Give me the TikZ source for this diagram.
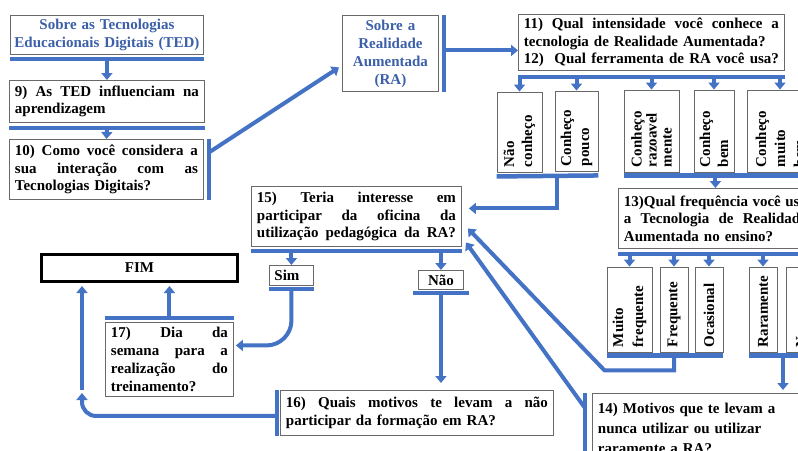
\documentclass[tikz,border=0pt]{standalone}
\usepackage{fontspec}
\setmainfont{Liberation Serif}
\usepackage{graphicx}
\usetikzlibrary{arrows.meta}
\definecolor{rablue}{RGB}{68,114,196}
\definecolor{headblue}{RGB}{59,95,168}
\definecolor{boxgray}{RGB}{105,105,105}
\newcommand{\qfont}{\fontsize{15}{17.5}\selectfont\bfseries}
\newcommand{\jl}[1]{{\spaceskip=0pt\xspaceskip=0pt\makebox[\hsize][s]{#1}}}
\newcommand{\vlab}[3]{\rotatebox{90}{\parbox{#1pt}{\fontsize{15}{#2}\selectfont\bfseries\raggedright #3}}}

\begin{document}
\begin{tikzpicture}[x=1pt,y=-1pt,
    qbox/.style={draw=boxgray,line width=0.9pt,fill=white,anchor=north west,inner xsep=5.5pt,inner ysep=0pt,align=left,font=\qfont},
    optbox/.style={draw=boxgray,line width=0.9pt,fill=white,inner sep=0pt,minimum height=#1},
    bar/.style={draw=rablue,line width=4.5pt},
    arr/.style={draw=rablue,line width=4pt,-{Triangle[width=11pt,length=7pt]}}]
        \useasboundingbox (0,0) rectangle (798,450);
        \clip (0,0) rectangle (798,450);
        \fill[white] (0,0) rectangle (798,450);
        \node[qbox,text width=188pt,inner xsep=2.5pt,minimum height=39pt,align=center,text=headblue] (ted) at (10,15) {Sobre as Tecnologias\\Educacionais Digitais (TED)};
        \node[qbox,text width=184pt,minimum height=42pt] (q9) at (9,80) {\jl{9) As TED influenciam na}\\aprendizagem};
        \node[qbox,text width=183pt,minimum height=60pt] (q10) at (9,139) {\jl{10) Como você considera a}\\\jl{sua interação com as}\\Tecnologias Digitais?};
        \node[qbox,text width=90pt,inner xsep=3pt,minimum height=76pt,align=center,text=headblue,font=\fontsize{15}{18}\selectfont\bfseries] (ra) at (342,15) {Sobre a\\Realidade\\Aumentada\\(RA)};
        \node[qbox,text width=255pt,minimum height=56pt] (q11) at (518,14) {\jl{11) Qual intensidade você conhece a}\\tecnologia de Realidade Aumentada?\\\jl{12)\ \ Qual ferramenta de RA você usa?}};
        \node[optbox=80pt,minimum width=45pt] (nc) at (519.5,132) {\vlab{70}{18}{Não\\conheço}};
        \node[optbox=80pt,minimum width=43pt] (cp) at (576.5,131) {\vlab{70}{18}{Conheço\\pouco}};
        \node[optbox=82pt,minimum width=55pt] (cr) at (651.5,131) {\vlab{72}{15}{Conheço\\razoavel\\mente}};
        \node[optbox=82pt,minimum width=40pt] (cb) at (714,131) {\vlab{72}{18}{Conheço\\bem}};
        \node[optbox=82pt,minimum width=66pt] (cmb) at (780,131) {\vlab{72}{19}{Conheço\\muito\\bem}};
        \node[qbox,text width=183pt,minimum height=60pt] (q13) at (618,188) {\jl{13)Qual frequência você usa}\\\jl{a Tecnologia de Realidade}\\Aumentada no ensino?};
        \node[optbox=85pt,minimum width=45pt] (mf) at (629.5,309.5) {\vlab{75}{20}{Muito\\frequente}};
        \node[optbox=85pt,minimum width=28pt] (fr) at (674,309.5) {\vlab{75}{18}{Frequente}};
        \node[optbox=85pt,minimum width=28pt] (oc) at (709,309.5) {\vlab{75}{18}{Ocasional}};
        \node[optbox=85pt,minimum width=28pt] (rr) at (763,309.5) {\vlab{75}{18}{Raramente}};
        \node[optbox=85pt,minimum width=30pt] (nu) at (801,309.5) {\vlab{75}{18}{Nunca}};
        \node[qbox,text width=219pt,minimum height=70pt,font=\fontsize{15}{20}\selectfont\bfseries] (q14) at (592,393) {14) Motivos que te levam a\\nunca utilizar ou utilizar\\raramente a RA?};
        \node[qbox,text width=199pt,minimum height=60pt] (q15) at (251,186) {\jl{15) Teria interesse em}\\\jl{participar da oficina da}\\\jl{utilização pedagógica da RA?}};
        \node[qbox,text width=34pt,inner xsep=5pt,minimum height=20pt] (sim) at (269,265) {Sim};
        \node[qbox,text width=39pt,inner xsep=3pt,minimum height=19pt,align=center] (nao) at (418,270) {Não};
        \node[qbox,text width=262pt,minimum height=45pt] (q16) at (280,390) {\jl{16) Quais motivos te levam a não}\\participar da formação em RA?};
        \node[qbox,text width=117pt,minimum height=74pt,font=\fontsize{15}{18}\selectfont\bfseries] (q17) at (105,322) {\jl{17) Dia da}\\\jl{semana para a}\\\jl{realização do}\\treinamento?};
        \node[qbox,draw=black,line width=3pt,text width=185pt,minimum height=27pt,align=center] (fim) at (40,253) {FIM};
        \draw [bar] ([yshift=-4pt]ted.south west) -- ([yshift=-4pt]ted.south east);
        \draw [arr] ([yshift=-4pt]ted.south) -- (q9.north);
        \draw [bar] ([yshift=-5pt]q9.south west) -- ([yshift=-5pt]q9.south east);
        \draw [arr] ([yshift=-5pt]q9.south) -- (q10.north);
        \draw [bar] ([xshift=5pt]q10.north east) -- ([xshift=5pt]q10.south east);
        \draw [arr] ([xshift=5pt,yshift=17pt]q10.east) -- ([xshift=-3pt,yshift=-14pt]ra.west);
        \draw [bar] ([xshift=5pt]ra.north east) -- ([xshift=5pt]ra.south east);
        \draw [arr] ([xshift=5pt,yshift=3pt]ra.east) -- ([yshift=3pt]ra.east -| q11.west);
        \draw [bar] ([yshift=-6pt]q11.south west) -- ([yshift=-6pt]q11.south east);
        \foreach \o in {nc,cp,cr,cb,cmb}
            \draw [arr] ([yshift=-6pt]q11.south west -| \o) -- (\o.north);
        \draw [bar] ([yshift=-4pt]nc.south west) -- ([yshift=-4pt]cp.south east);
        \coordinate (jnc) at (557,176);
        \draw [arr] (jnc) |- ([xshift=7pt,yshift=8pt]q15.east);
        \draw [bar] ([yshift=-3pt]cr.south west) -- ([yshift=-3pt]cmb.south east);
        \draw [arr] ([yshift=-3pt]cr.south west -| q13) -- (q13.north);
        \draw [bar] ([yshift=-5pt]q13.south west) -- ([yshift=-5pt]q13.south east);
        \foreach \o in {mf,fr,oc,rr}
            \draw [arr] ([yshift=-5pt]q13.south west -| \o) -- (\o.north);
        \draw [bar] ([yshift=-3pt]mf.south west) -- ([yshift=-3pt]oc.south east);
        \draw [arr] ([yshift=-3pt]fr.south) -- ([yshift=-18pt]fr.south) -- ([xshift=-2pt,yshift=-18pt]mf.south west) -- ([xshift=6pt,yshift=-12pt]q15.east);
        \draw [bar] ([yshift=-3pt]rr.south west) -- ([yshift=-3pt]nu.south east);
        \coordinate (jrr) at (783,355);
        \draw [arr] (jrr) -- ([yshift=3pt]jrr |- q14.north);
        \draw [bar] ([xshift=-7pt]q14.north west) -- ([xshift=-7pt]q14.south west);
        \draw [arr] ([xshift=-7pt,yshift=-15pt]q14.north west) -- ([xshift=4pt,yshift=-26pt]q15.east);
        \draw [bar] ([yshift=-4pt]q15.south west) -- ([yshift=-4pt]q15.south east);
        \draw [arr] ([yshift=-4pt]q15.south west -| sim) -- (sim.north);
        \draw [arr] ([yshift=-4pt]q15.south west -| nao) -- (nao.north);
        \draw [bar] ([yshift=-3pt]sim.south west) -- ([yshift=-3pt]sim.south east);
        \draw [arr,rounded corners=25pt] ([yshift=-3pt]sim.south) |- ([xshift=2pt,yshift=14pt]q17.east);
        \draw [bar] ([xshift=-5pt,yshift=-3pt]nao.south west) -- ([xshift=5pt,yshift=-3pt]nao.south east);
        \draw [arr] ([yshift=-3pt]nao.south) -- ([yshift=7pt]nao.south |- q16.north);
        \draw [bar] ([xshift=-3pt]q16.north west) -- ([xshift=-3pt]q16.south west);
        \coordinate (ret) at (82,393);
        \draw [arr,rounded corners=14pt] ([xshift=-3pt,yshift=-3pt]q16.west) -| (ret);
        \draw [arr] ([yshift=3pt]ret) -- ([yshift=-3pt]ret |- fim.south);
        \draw [bar] ([yshift=4pt]q17.north west) -- ([yshift=4pt]q17.north east);
        \draw [arr] ([yshift=4pt]q17.north) -- ([yshift=-3pt]q17.north |- fim.south);
    \end{tikzpicture}
\end{document}
